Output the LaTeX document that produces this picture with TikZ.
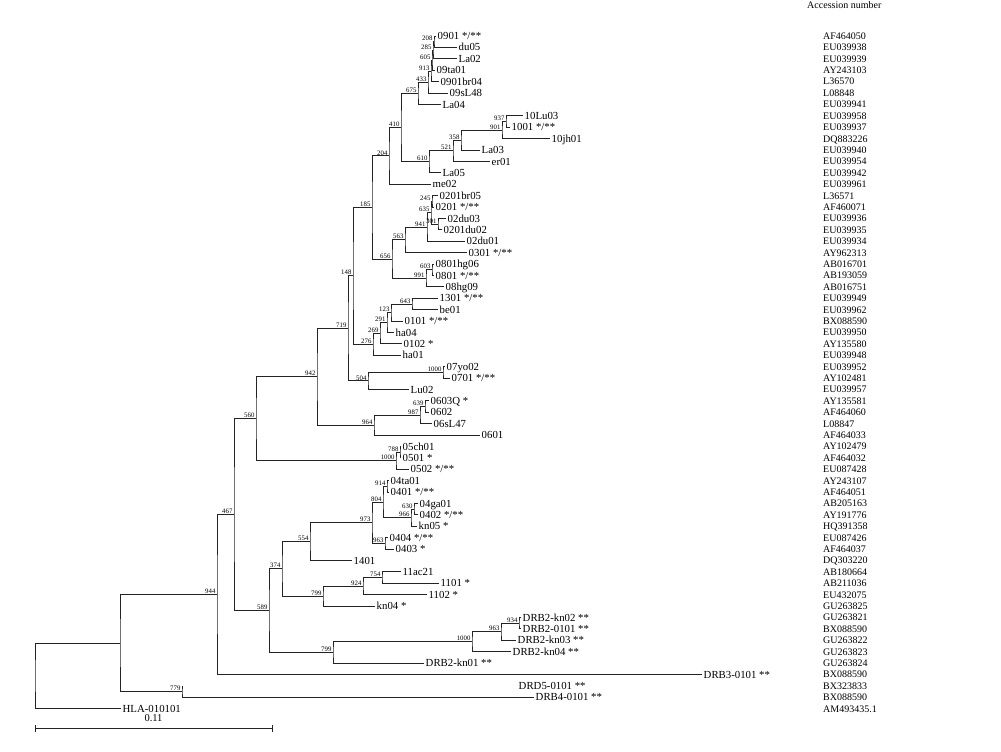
\documentclass[tikz,border=0pt]{standalone}
\usepackage{fontspec}
\setmainfont{Liberation Serif}
\usepackage{tikz}
\usetikzlibrary{arrows.meta, calc}
\definecolor{BranchInk}{RGB}{35, 35, 35}

\tikzset{
  branch/.style={draw=BranchInk, line width=0.8pt},
  taxon/.style={anchor=west, inner sep=1.5pt, text height=7.2pt, text depth=0pt,
    font=\fontsize{10.8}{12}\selectfont},
  boot/.style={anchor=south east, inner sep=0.6pt, xshift=-0.8pt, text height=4.8pt,
    text depth=0pt, font=\fontsize{6.8}{7}\selectfont},
  accno/.style={anchor=west, inner sep=1pt, text height=6.8pt, text depth=0pt,
    font=\fontsize{10}{12}\selectfont}
}

% tip: name, row, end of branch, label, accession
\newcommand\tip[5]{%
  \coordinate (#1) at (#3,{36+11.4*#2});
  \node[taxon] (#1-lab) at (#1) {#4};
  \node[accno] (#1-acc) at (822,{36+11.4*#2}) {#5};
}
% clade: name, x, upper child, lower child, bootstrap
\newcommand\clade[5]{%
  \coordinate (#1-mid) at ($(#3)!.5!(#4)$);
  \coordinate (#1-x) at (#2,0);
  \coordinate (#1) at (#1-x |- #1-mid);
  \draw[branch] (#3) -| (#1) |- (#4);
  \if\relax\detokenize{#5}\relax\else
    \node[boot] (#1-bs) at (#1) {#5};
  \fi
}

\begin{document}
\begin{tikzpicture}[x=1pt, y=-1pt]
  \useasboundingbox (0,0) rectangle (1001,752);

  \node[accno] (acc-head) at (806,5) {Accession number};

  % tips
  \tip{t-0901}{0}{436}{0901 */**}{AF464050}
  \tip{t-du05}{1}{457}{du05}{EU039938}
  \tip{t-La02}{2}{457}{La02}{EU039939}
  \tip{t-09ta01}{3}{435}{09ta01}{AY243103}
  \tip{t-0901br04}{4}{439}{0901br04}{L36570}
  \tip{t-09sL48}{5}{448}{09sL48}{L08848}
  \tip{t-La04}{6}{441}{La04}{EU039941}
  \tip{t-10Lu03}{7}{523}{10Lu03}{EU039958}
  \tip{t-1001}{8}{510}{1001 */**}{EU039937}
  \tip{t-10jh01}{9}{550}{10jh01}{DQ883226}
  \tip{t-La03}{10}{480}{La03}{EU039940}
  \tip{t-er01}{11}{490}{er01}{EU039954}
  \tip{t-La05}{12}{441}{La05}{EU039942}
  \tip{t-me02}{13}{431}{me02}{EU039961}
  \tip{t-0201br05}{14}{438}{0201br05}{L36571}
  \tip{t-0201}{15}{434}{0201 */**}{AF460071}
  \tip{t-02du03}{16}{446}{02du03}{EU039936}
  \tip{t-0201du02}{17}{442}{0201du02}{EU039935}
  \tip{t-02du01}{18}{465}{02du01}{EU039934}
  \tip{t-0301}{19}{467}{0301 */**}{AY962313}
  \tip{t-0801hg06}{20}{434}{0801hg06}{AB016701}
  \tip{t-0801}{21}{434}{0801 */**}{AB193059}
  \tip{t-08hg09}{22}{444}{08hg09}{AB016751}
  \tip{t-1301}{23}{438}{1301 */**}{EU039949}
  \tip{t-be01}{24}{438}{be01}{EU039962}
  \tip{t-0101}{25}{403}{0101 */**}{BX088590}
  \tip{t-ha04}{26}{394}{ha04}{EU039950}
  \tip{t-0102}{27}{402}{0102 *}{AY135580}
  \tip{t-ha01}{28}{401}{ha01}{EU039948}
  \tip{t-07yo02}{29}{445}{07yo02}{EU039952}
  \tip{t-0701}{30}{450}{0701 */**}{AY102481}
  \tip{t-Lu02}{31}{409}{Lu02}{EU039957}
  \tip{t-0603Q}{32}{429}{0603Q *}{AY135581}
  \tip{t-0602}{33}{429}{0602}{AF464060}
  \tip{t-06sL47}{34}{432}{06sL47}{L08847}
  \tip{t-0601}{35}{480}{0601}{AF464033}
  \tip{t-05ch01}{36}{401}{05ch01}{AY102479}
  \tip{t-0501}{37}{401}{0501 *}{AF464032}
  \tip{t-0502}{38}{409}{0502 */**}{EU087428}
  \tip{t-04ta01}{39}{389}{04ta01}{AY243107}
  \tip{t-0401}{40}{389}{0401 */**}{AF464051}
  \tip{t-04ga01}{41}{418}{04ga01}{AB205163}
  \tip{t-0402}{42}{418}{0402 */**}{AY191776}
  \tip{t-kn05}{43}{417}{kn05 *}{HQ391358}
  \tip{t-0404}{44}{388}{0404 */**}{EU087426}
  \tip{t-0403}{45}{394}{0403 *}{AF464037}
  \tip{t-1401}{46}{352}{1401}{DQ303220}
  \tip{t-11ac21}{47}{401}{11ac21}{AB180664}
  \tip{t-1101}{48}{439}{1101 *}{AB211036}
  \tip{t-1102}{49}{427}{1102 *}{EU432075}
  \tip{t-kn04}{50}{375}{kn04 *}{GU263825}
  \tip{t-DRB2kn02}{51}{521}{DRB2-kn02 **}{GU263821}
  \tip{t-DRB20101}{52}{521}{DRB2-0101 **}{BX088590}
  \tip{t-DRB2kn03}{53}{516}{DRB2-kn03 **}{GU263822}
  \tip{t-DRB2kn04}{54}{511}{DRB2-kn04 **}{GU263823}
  \tip{t-DRB2kn01}{55}{424}{DRB2-kn01 **}{GU263824}
  \tip{t-DRB30101}{56}{702}{DRB3-0101 **}{BX088590}
  \coordinate (t-DRD5) at (182,{36+11.4*57});
  \node[taxon] (t-DRD5-lab) at (517,{36+11.4*57}) {DRD5-0101 **};
  \node[accno] (t-DRD5-acc) at (822,{36+11.4*57}) {BX323833};
  \tip{t-DRB40101}{58}{534}{DRB4-0101 **}{BX088590}
  \tip{t-HLA}{59}{121}{HLA-010101}{AM493435.1}

  % clades, from the leaves down
  \clade{n208}{434}{t-0901}{t-du05}{208}
  \clade{n285}{433}{n208}{t-La02}{285}
  \clade{n605}{432}{n285}{t-09ta01}{605}
  \clade{n913}{431}{n605}{t-0901br04}{913}
  \clade{n433}{428}{n913}{t-09sL48}{433}
  \clade{n675}{418}{n433}{t-La04}{675}
  \clade{n937}{506}{t-10Lu03}{t-1001}{937}
  \clade{n901}{502}{n937}{t-10jh01}{901}
  \clade{n358}{461}{n901}{t-La03}{358}
  \clade{n521}{453}{n358}{t-er01}{521}
  \clade{n610}{429}{n521}{t-La05}{610}
  \clade{n410}{401}{n675}{n610}{410}
  \clade{n204}{389}{n410}{t-me02}{204}
  \clade{n245}{432}{t-0201br05}{t-0201}{245}
  \clade{n301}{438}{t-02du03}{t-0201du02}{301}
  \clade{n635}{431}{n245}{n301}{635}
  \clade{n941}{427}{n635}{t-02du01}{941}
  \clade{n563}{405}{n941}{t-0301}{563}
  \clade{n603}{432}{t-0801hg06}{t-0801}{603}
  \clade{n991}{426}{n603}{t-08hg09}{991}
  \clade{n656}{392}{n563}{n991}{656}
  \clade{n185}{372}{n204}{n656}{185}
  \clade{n643}{412}{t-1301}{t-be01}{643}
  \clade{n123}{391}{n643}{t-0101}{123}
  \clade{n291}{387}{n123}{t-ha04}{291}
  \clade{n269}{380}{n291}{t-0102}{269}
  \clade{n276}{373}{n269}{t-ha01}{276}
  \clade{n148}{353}{n185}{n276}{148}
  \clade{n1000a}{443}{t-07yo02}{t-0701}{1000}
  \clade{n504}{368}{n1000a}{t-Lu02}{504}
  \clade{n719}{348}{n148}{n504}{719}
  \clade{n639}{425}{t-0603Q}{t-0602}{639}
  \clade{n987}{420}{n639}{t-06sL47}{987}
  \clade{n964}{374}{n987}{t-0601}{964}
  \clade{n942}{317}{n719}{n964}{942}
  \clade{n788}{400}{t-05ch01}{t-0501}{788}
  \clade{n1000b}{396}{n788}{t-0502}{1000}
  \clade{n560}{256}{n942}{n1000b}{560}
  \clade{n914}{387}{t-04ta01}{t-0401}{914}
  \clade{n630}{414}{t-04ga01}{t-0402}{630}
  \clade{n966}{411}{n630}{t-kn05}{966}
  \clade{n804}{383}{n914}{n966}{804}
  \clade{n963}{385}{t-0404}{t-0403}{963}
  \clade{n973}{372}{n804}{n963}{973}
  \clade{n554}{310}{n973}{t-1401}{554}
  \clade{n754}{382}{t-11ac21}{t-1101}{754}
  \clade{n924}{363}{n754}{t-1102}{924}
  \clade{n799}{323}{n924}{t-kn04}{799}
  \clade{n374}{282}{n554}{n799}{374}
  \clade{n934}{519}{t-DRB2kn02}{t-DRB20101}{934}
  \clade{n963b}{501}{n934}{t-DRB2kn03}{963}
  \clade{n1000c}{472}{n963b}{t-DRB2kn04}{1000}
  \clade{n799b}{333}{n1000c}{t-DRB2kn01}{799}
  \clade{n589}{269}{n374}{n799b}{589}
  \clade{n467}{234}{n560}{n589}{467}
  \clade{n944}{217}{n467}{t-DRB30101}{944}
  \clade{n779}{182}{t-DRD5}{t-DRB40101}{779}
  \clade{nA}{120}{n944}{n779}{}
  \clade{root}{35}{nA}{t-HLA}{}

  % scale bar
  \coordinate (bar-l) at (35,728.5);
  \coordinate (bar-r) at (272,728.5);
  \draw[branch] (bar-l) -- (bar-r);
  \draw[branch] ($(bar-l)+(0,-3.5)$) -- ($(bar-l)+(0,3.5)$);
  \draw[branch] ($(bar-r)+(0,-3.5)$) -- ($(bar-r)+(0,3.5)$);
  \node[taxon, anchor=south, inner sep=1pt, font=\fontsize{10.5}{12}\selectfont]
    (bar-lab) at ($(bar-l)!.5!(bar-r)+(0,-6)$) {0.11};
\end{tikzpicture}
\end{document}
